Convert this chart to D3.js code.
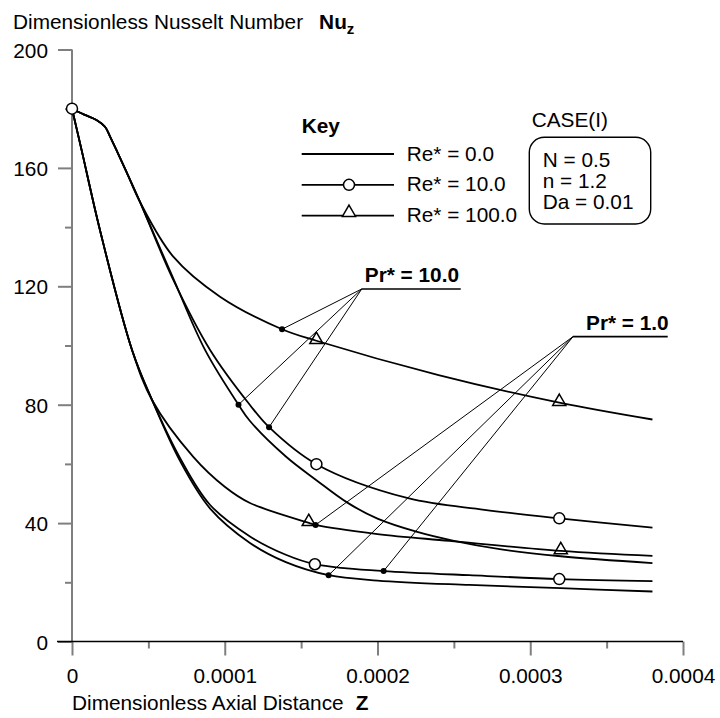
<!DOCTYPE html>
<html>
<head>
<meta charset="utf-8">
<script src="https://cdn.jsdelivr.net/npm/d3@7"></script>
<style>
body { margin: 0; background: #fff; }
svg text { font-family: "Liberation Sans", Arial, sans-serif; font-size: 20.8px; fill: #000; }
.curve { fill: none; stroke: #000; stroke-width: 1.8; }
.leader { fill: none; stroke: #000; stroke-width: 1; }
</style>
</head>
<body>
<div id="chart"></div>
<script>
/* values: [Z, Nu_z] */

// Pr* = 10.0
var pr10Re0 = [[0,180],[0.000008,178],[0.000016,176.2],[0.0000216,173.9],[0.000025,170.5],[0.00003,165],
    [0.0000358,158.5],[0.0000445,148.5],[0.000066,123],[0.0000871,98.5],[0.000109,80],[0.0001165,74.5],
    [0.00014,62.5],[0.00016,54.5],[0.00018,47],[0.0002,41.5],[0.000226,37],[0.00025,34],
    [0.00028,31.2],[0.00032,28.8],[0.00038,26.5]];
var pr10Re10 = [[0,180],[0.000008,178],[0.000016,176.2],[0.0000216,173.9],[0.000025,170.5],[0.00003,165],
    [0.0000358,158.5],[0.0000445,148.5],[0.000066,122.5],[0.0000904,98.5],[0.0001165,79.9],[0.000129,72.4],
    [0.00016,59.9],[0.00022,48.4],[0.00027,44.5],[0.000319,41.6],[0.00038,38.5]];
var pr10Re100 = [[0,180],[0.000008,178],[0.000016,176.2],[0.0000216,173.9],[0.000025,170.5],[0.00003,165],
    [0.0000358,158.5],[0.0000445,148.5],[0.0000663,130],[0.0000969,116.5],[0.0001375,105.5],
    [0.00016,101.6],[0.00024,90],[0.000319,80.7],[0.00038,75]];

// Pr* = 1.0
var pr1Re0 = [[0,180],[0.0000063,166],[0.0000183,139],[0.0000393,98.5],[0.0000524,81.6],[0.0000707,61],
    [0.0000903,45],[0.0001165,33.3],[0.00014,26.8],[0.000168,22.4],[0.0002,20.6],[0.00026,19.1],
    [0.00032,18],[0.00038,16.9]];
var pr1Re10 = [[0,180],[0.0000063,166],[0.0000183,139],[0.0000393,98.5],[0.0000524,81.6],[0.0000707,62],
    [0.0000903,46.2],[0.0001165,35.5],[0.00014,29.3],[0.000159,26.1],[0.00018,24.7],[0.000204,23.8],
    [0.00026,22.4],[0.000319,21.1],[0.00038,20.4]];
var pr1Re100 = [[0,180],[0.0000063,166],[0.0000183,139],[0.0000393,98.5],[0.0000524,81.6],[0.0000794,62.4],
    [0.0001,52.3],[0.0001165,46.8],[0.000155,40.1],[0.0001595,39.4],[0.0002,36.3],[0.000247,34],
    [0.00032,30.6],[0.00038,28.9]];

// symbols on the curves
var circleMarks = [[0,180],[0.00016,59.9],[0.000319,41.6],[0.000159,26.1],[0.000319,21.1]];
var triangleMarks = [[0.00016,101.6],[0.000319,80.7],[0.000155,40.1],[0.00032,30.6]];
var pr10Dots = [[0.0001375,105.5],[0.000109,80],[0.000129,72.4]];
var pr1Dots = [[0.0001595,39.4],[0.000168,22.4],[0.000204,23.8]];

// ticks
var xMajor = [0,0.0001,0.0002,0.0003,0.0004];
var xMinor = [0.00005,0.00015,0.00025,0.00035];
var yMajor = [0,40,80,120,160,200];
var yMinor = [20,60,100,140,180];

var keyLabels = ["Re* = 0.0","Re* = 10.0","Re* = 100.0"];
var caseLines = ["N = 0.5","n = 1.2","Da = 0.01"];

var width = 720, height = 718;
var svg = d3.select("#chart").append("svg")
    .attr("width", width)
    .attr("height", height);

var x = d3.scaleLinear().domain([0,0.0004]).range([72,683]);
var y = d3.scaleLinear().domain([0,200]).range([641.5,49.5]);

// Axes
var axisGray = "#7f7f7f";

var yMaj = svg.append("g").attr("transform","translate(72,0)")
    .call(d3.axisLeft(y).tickValues(yMajor).tickSize(14).tickPadding(10).tickFormat(d3.format("d")));
var yMin = svg.append("g").attr("transform","translate(72,0)")
    .call(d3.axisLeft(y).tickValues(yMinor).tickSize(7).tickFormat(""));
var xMaj = svg.append("g").attr("transform","translate(0," + y(0) + ")")
    .call(d3.axisBottom(x).tickValues(xMajor).tickSize(14).tickPadding(12.5)
        .tickFormat(function(d) { return d === 0 ? "0" : d.toFixed(4); }));
var xMin = svg.append("g").attr("transform","translate(0," + y(0) + ")")
    .call(d3.axisBottom(x).tickValues(xMinor).tickSize(7).tickFormat(""));

[yMaj, yMin, xMaj, xMin].forEach(function(g) {
    g.select(".domain").remove();
    g.selectAll("line").attr("stroke", axisGray).attr("stroke-width", 2);
    g.selectAll("text").attr("font-family", null).attr("font-size", null).attr("fill", "#000");
});
yMaj.selectAll("text").attr("dy", "0.36em");

svg.append("line")
    .attr("x1", 72).attr("x2", 72).attr("y1", y(200)).attr("y2", y(0))
    .attr("stroke", axisGray).attr("stroke-width", 2);
svg.append("line")
    .attr("x1", 57).attr("x2", x(0.0004)).attr("y1", y(0)).attr("y2", y(0))
    .attr("stroke", "#000").attr("stroke-width", 1.5);

// Axis titles
var yTitle = svg.append("text").attr("x", 13).attr("y", 29);
yTitle.append("tspan").text("Dimensionless Nusselt Number");
yTitle.append("tspan").attr("dx", 16).attr("font-weight", "bold").text("Nu");
yTitle.append("tspan").attr("font-weight", "bold").attr("font-size", "15px").attr("dy", 5).text("z");

var xTitle = svg.append("text").attr("x", 72).attr("y", 710);
xTitle.append("tspan").text("Dimensionless Axial Distance");
xTitle.append("tspan").attr("dx", 12).attr("font-weight", "bold").text("Z");

// Curves
var line = d3.line()
    .x(function(d) { return x(d[0]); })
    .y(function(d) { return y(d[1]); })
    .curve(d3.curveCatmullRom.alpha(0.5));

var series = [pr10Re0, pr10Re10, pr10Re100, pr1Re0, pr1Re10, pr1Re100];
svg.append("g").selectAll(".curve")
    .data(series)
    .enter().append("path")
    .attr("class", "curve")
    .attr("d", line);

// Leader lines to the Pr* labels
var labels = [
    { text: "Pr* = 10.0", at: [0.0001897,119.1], end: 0.0002545, dots: pr10Dots, tx: 3, ty: -7.3 },
    { text: "Pr* = 1.0", at: [0.000328,103.0], end: 0.00039, dots: pr1Dots, tx: 13, ty: -6.7 }
];

labels.forEach(function(l) {
    var g = svg.append("g");
    g.selectAll(".leader")
        .data(l.dots)
        .enter().append("line")
        .attr("class", "leader")
        .attr("x1", x(l.at[0])).attr("y1", y(l.at[1]))
        .attr("x2", function(d) { return x(d[0]); })
        .attr("y2", function(d) { return y(d[1]); });
    g.append("line")
        .attr("x1", x(l.at[0])).attr("x2", x(l.end))
        .attr("y1", y(l.at[1])).attr("y2", y(l.at[1]))
        .attr("stroke", "#000").attr("stroke-width", 1.6);
    g.append("text")
        .attr("x", x(l.at[0]) + l.tx).attr("y", y(l.at[1]) + l.ty)
        .attr("font-weight", "bold")
        .text(l.text);
    g.selectAll(".dot")
        .data(l.dots)
        .enter().append("circle")
        .attr("class", "dot")
        .attr("cx", function(d) { return x(d[0]); })
        .attr("cy", function(d) { return y(d[1]); })
        .attr("r", 3);
});

// Symbols
var circleSym = d3.symbol().type(d3.symbolCircle).size(95);
var triSym = d3.symbol().type(d3.symbolTriangle).size(75);

svg.append("g").selectAll("path")
    .data(circleMarks)
    .enter().append("path")
    .attr("d", circleSym)
    .attr("transform", function(d) { return "translate(" + x(d[0]) + "," + y(d[1]) + ")"; })
    .attr("fill", "#fff").attr("stroke", "#000").attr("stroke-width", 1.5);

svg.append("g").selectAll("path")
    .data(triangleMarks)
    .enter().append("path")
    .attr("d", triSym)
    .attr("transform", function(d) { return "translate(" + x(d[0]) + "," + (y(d[1]) - 1) + ")"; })
    .attr("fill", "none").attr("stroke", "#000").attr("stroke-width", 1.5);

// Key
var key = svg.append("g");
key.append("text").attr("x", 301.7).attr("y", 133.3).attr("font-weight", "bold").text("Key");
var rows = key.selectAll(".row")
    .data(keyLabels)
    .enter().append("g")
    .attr("class", "row")
    .attr("transform", function(d, i) { return "translate(0," + (154 + i * 30.8) + ")"; });
rows.append("line")
    .attr("x1", 301.7).attr("x2", 394).attr("y1", 0).attr("y2", 0)
    .attr("stroke", "#000").attr("stroke-width", 1.8);
rows.append("text").attr("x", 406.7).attr("y", 6.5).text(function(d) { return d; });
rows.filter(function(d, i) { return i === 1; }).append("path")
    .attr("d", circleSym).attr("transform", "translate(349,0)")
    .attr("fill", "#fff").attr("stroke", "#000").attr("stroke-width", 1.5);
rows.filter(function(d, i) { return i === 2; }).append("path")
    .attr("d", triSym).attr("transform", "translate(349,-3)")
    .attr("fill", "#fff").attr("stroke", "#000").attr("stroke-width", 1.5);

// CASE box
svg.append("text").attr("x", 531.7).attr("y", 126.7).text("CASE(I)");
svg.append("rect")
    .attr("x", 529.3).attr("y", 137.3).attr("width", 121.4).attr("height", 86.7)
    .attr("rx", 15).attr("ry", 15)
    .attr("fill", "none").attr("stroke", "#000").attr("stroke-width", 1.4);
svg.append("g").selectAll("text")
    .data(caseLines)
    .enter().append("text")
    .attr("x", 542.7)
    .attr("y", function(d, i) { return 166.7 + i * 21.3; })
    .text(function(d) { return d; });
</script>
</body>
</html>
